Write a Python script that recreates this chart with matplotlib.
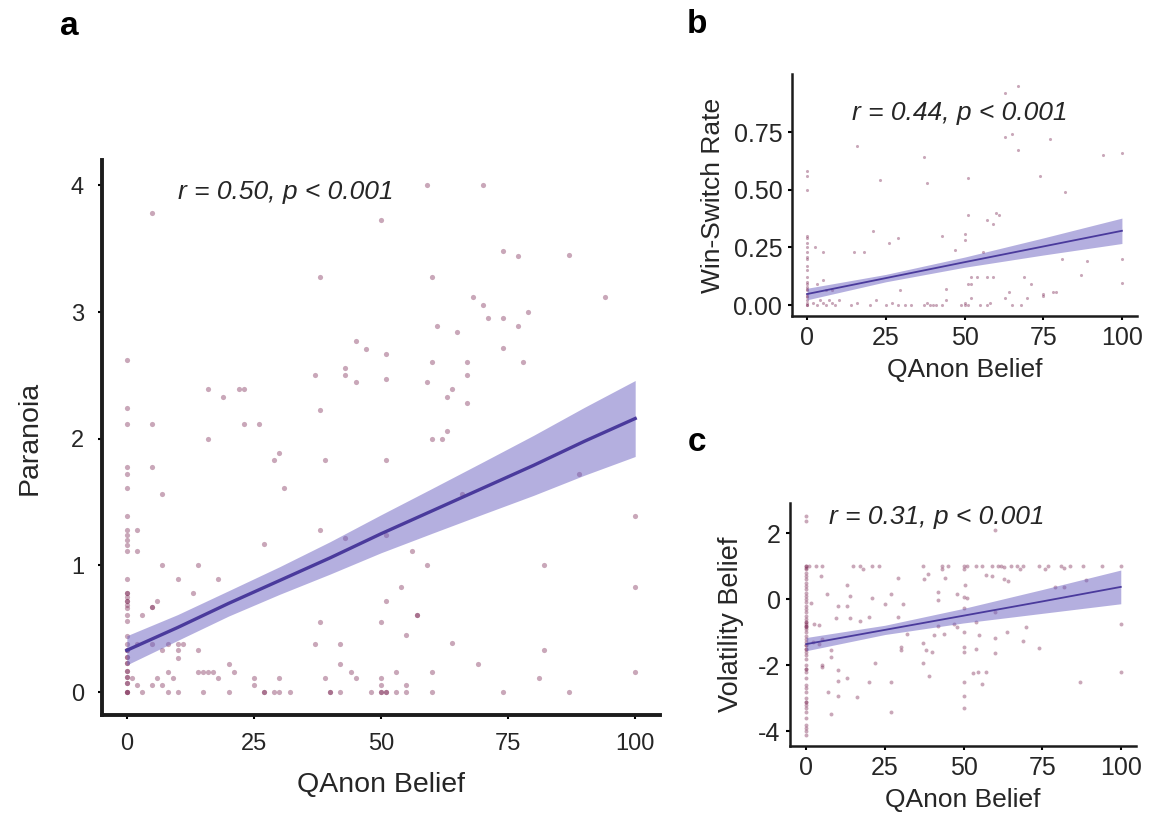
import matplotlib
matplotlib.use("Agg")
import matplotlib.pyplot as plt
import numpy as np

plt.rcParams['font.family'] = ['Liberation Sans', 'DejaVu Sans']

# ---- panel a : Paranoia vs QAnon belief ----
a_x = [0]*39 + [
    5, 50, 38, 45, 47, 51, 43, 43, 37, 45, 51, 16, 22, 23, 19, 38, 5, 23, 26, 16,
    59, 70, 74, 77, 87, 60, 68, 70, 94, 79, 71, 74, 77, 61, 65, 74, 60, 67, 78, 59,
    67, 64, 63, 67, 63, 60, 62,
    5, 30, 29, 39, 51, 7, 31, 2, 38, 43, 51, 27, 2, 7, 14, 10, 18, 13, 6, 5, 5, 3,
    51, 38, 50, 2, 5, 8, 10, 11, 37, 42, 7, 10, 14, 10, 20, 42, 8, 14, 15, 16, 17,
    21, 44, 1, 6, 9, 18, 25, 30, 39, 45, 50, 2, 5, 7, 25, 50,
    3, 8, 10, 15, 20, 27, 27, 29, 30, 32, 40, 40, 42, 48, 50, 50, 51, 51,
    89, 100, 66, 56, 59, 82, 100, 54, 57, 57, 55, 64, 82, 69, 53, 60, 100, 81, 55,
    53, 55, 60, 74, 87]
a_y = [2.62, 2.24, 2.12, 1.78, 1.72, 1.61, 1.39, 1.28, 1.24, 1.20, 1.16, 1.11, 0.89,
       0.78, 0.75, 0.72, 0.69, 0.66, 0.61, 0.56, 0.44, 0.38, 0.33, 0.28, 0.23, 0.17,
       0.12, 0.07, 0.0, 0.78, 0.72, 0.33, 0.28, 0.17, 0.12, 0.07, 0.0, 0.0, 0.23] + [
    3.78, 3.73, 3.28, 2.77, 2.71, 2.67, 2.56, 2.50, 2.50, 2.45, 2.47, 2.39, 2.39, 2.39,
    2.33, 2.23, 2.12, 2.12, 2.12, 2.0,
    4.0, 4.0, 3.48, 3.44, 3.45, 3.28, 3.12, 3.06, 3.12, 3.0, 2.95, 2.95, 2.89, 2.89,
    2.84, 2.72, 2.61, 2.61, 2.61, 2.45, 2.5, 2.39, 2.33, 2.28, 2.06, 2.0, 2.0,
    1.78, 1.89, 1.83, 1.83, 1.83, 1.56, 1.61, 1.28, 1.28, 1.22, 1.24, 1.17, 1.11, 1.0,
    1.0, 0.89, 0.89, 0.78, 0.72, 0.67, 0.67, 0.61,
    0.72, 0.55, 0.55, 0.38, 0.38, 0.38, 0.38, 0.38, 0.38, 0.38, 0.33, 0.33, 0.33, 0.27,
    0.22, 0.22, 0.16, 0.16, 0.16, 0.16, 0.16,
    0.16, 0.16, 0.11, 0.11, 0.11, 0.11, 0.11, 0.11, 0.11, 0.11, 0.11, 0.056, 0.056,
    0.056, 0.056, 0.056,
    0, 0, 0, 0, 0, 0, 0, 0, 0, 0, 0, 0, 0, 0, 0, 0, 0, 0,
    1.72, 1.39, 1.56, 1.11, 1.0, 1.0, 0.83, 0.83, 0.61, 0.61, 0.45, 0.39, 0.33, 0.22,
    0.16, 0.16, 0.16, 0.11, 0.056,
    0, 0, 0, 0, 0]
a_fit_x = [0, 10, 20, 30, 40, 50, 60, 70, 80, 90, 100]
a_fit_y = [0.33, 0.51, 0.70, 0.88, 1.06, 1.25, 1.43, 1.61, 1.79, 1.98, 2.16]
a_fit_se = [0.115, 0.102, 0.100, 0.109, 0.128, 0.150, 0.177, 0.206, 0.237, 0.268, 0.30]

# ---- panel b : Win-switch rate ----
b_x = [0]*25 + [
    67, 63, 65, 63, 77, 16, 67, 37, 94, 100, 23, 38, 51, 74, 82, 60, 61, 51, 57, 59,
    21, 29, 26, 43, 50, 50, 2.5, 5, 15, 18, 47, 56, 81, 89, 100, 87, 52, 54, 51, 52,
    57, 59, 69, 71, 29.5, 64, 75, 78, 79, 100, 3, 5, 6, 8, 44,
    2, 3, 4, 5, 6, 7, 8, 9, 10, 14, 16, 20, 22, 25, 27, 29, 31, 33, 37, 38, 39, 40,
    41, 43, 44, 49, 50, 50, 51, 52, 55, 57, 58, 63, 65, 68, 70, 75]
b_y = [0.58, 0.56, 0.50, 0.30, 0.29, 0.27, 0.25, 0.23, 0.21, 0.20, 0.17, 0.15, 0.12,
       0.10, 0.09, 0.08, 0.07, 0.065, 0.05, 0.04, 0.036, 0.02, 0.01, 0.0, 0.0] + [
    0.95, 0.92, 0.74, 0.73, 0.72, 0.69, 0.67, 0.64, 0.65, 0.66, 0.54, 0.53, 0.55, 0.56,
    0.49, 0.40, 0.39, 0.39, 0.37, 0.35,
    0.32, 0.29, 0.27, 0.30, 0.31, 0.28, 0.25, 0.23, 0.23, 0.23, 0.24, 0.23, 0.20, 0.19,
    0.20, 0.13, 0.12, 0.12, 0.09, 0.09,
    0.12, 0.12, 0.12, 0.09, 0.065, 0.058, 0.05, 0.058, 0.058, 0.094, 0.09, 0.11, 0.065,
    0.065, 0.07,
    0.01, 0.0, 0.02, 0.01, 0.0, 0.02, 0.01, 0.0, 0.02, 0.0, 0.01, 0.0, 0.02, 0.0, 0.01,
    0.0, 0.0, 0.0, 0.0, 0.01, 0.0, 0.0,
    0.0, 0.0, 0.02, 0.0, 0.0, 0.01, 0.0, 0.03, 0.0, 0.0, 0.01, 0.03, 0.0, 0.0, 0.03, 0.04]
b_fit_x = [0, 25, 50, 75, 100]
b_fit_y = [0.048, 0.117, 0.186, 0.254, 0.322]
b_fit_se = [0.025, 0.016, 0.022, 0.037, 0.055]

# ---- panel c : Volatility belief ----
c_x = [0]*58 + [
    1, 3, 5, 15, 17, 21, 23, 37, 43, 45, 50, 51, 54, 56, 59, 61, 62, 65, 67, 69, 74,
    77, 81, 84, 88, 94, 100,
    18, 43, 50, 63, 68, 76, 82,
    4.6, 38.7, 37.4, 29, 44, 50.6, 57, 59, 63, 64, 12.8, 89, 79, 82, 6.7, 1.4, 14, 27,
    41.8, 48, 50, 51, 10, 13, 21, 25, 30.7, 29, 14, 17, 20, 4, 2.6, 9.3, 42, 42, 47,
    48, 54, 50, 60, 70, 32, 40.5, 43.7, 50, 54.8, 63.8, 60, 69, 74, 30, 30, 37, 38,
    40, 50, 50, 54, 60, 7.7, 7.7, 22, 5, 5, 10, 37, 39, 53, 54.6, 57, 100, 10, 13, 20,
    27, 50, 56, 87, 7, 10, 16, 50, 7.7, 27, 50, 100, 60, 2, 4, 5]
c_y = [2.5, 2.35, 1.0, 0.95, 0.9, 0.8, 0.7, 0.6, 0.5, 0.4, 0.3, 0.2, 0.1, 0.0, -0.1,
       -0.2, -0.3, -0.4, -0.5, -0.6, -0.7, -0.75, -0.8, -0.85, -0.9, -1.0, -1.1, -1.2,
       -1.3, -1.4, -1.5, -1.6, -1.7, -1.8, -2.0, -2.1, -2.2, -2.4, -2.6, -2.7, -2.8,
       -3.0, -3.1, -3.2, -3.3, -3.4, -3.6, -3.8, -3.9, -4.0, -4.1, 1.0, -0.7, -0.8,
       -1.4, -1.5, -2.1, -3.1] + [1.0]*27 + [
    0.9, 0.9, 0.92, 0.98, 0.92, 0.9, 0.95,
    0.69, 0.75, 0.62, 0.64, 0.65, 0.42, 0.72, 0.69, 0.6, 0.55, 0.42, 0.57, 0.37, 0.37,
    0.17, -0.13, 0.09, 0.17, 0.22, 0.17, 0.07, 0.02, -0.21, -0.21, 0.02, -0.16, -0.16,
    -0.53, -0.58, -0.65, -0.53, -0.79, -0.76, -0.58, -0.03, -0.82, -0.74, -0.84, -0.68,
    -0.28, -0.38, -0.84, -1.04, -1.09, -1.04, -0.99, -1.09, -1.0, -1.19, -1.26, -1.49,
    -1.44, -1.54, -1.34, -1.54, -1.59, -1.44, -1.59, -1.52, -1.64, -1.54, -1.74, -1.92,
    -1.99, -2.06, -2.14, -1.94, -2.33, -2.23, -2.2, -2.2, -2.2, -2.47, -2.4, -2.52,
    -2.52, -2.52, -2.58, -2.52, -2.8, -2.92, -2.95, -2.92, -3.47, -3.42, -3.3, -0.76,
    2.08, -1.3, -1.35, -1.2]
c_fit_x = [0, 25, 50, 75, 100]
c_fit_y = [-1.36, -0.93, -0.50, -0.07, 0.37]
c_fit_se = [0.20, 0.14, 0.22, 0.36, 0.51]
c_yticks = [-4, -2, 0, 2]
c_yticklabels = ['-4', '-2', '0', '2']

pt_color = '#7a2450'
line_color = '#4a3a9c'
band_color = '#6b60c0'
spine_color = '#1c1c1c'


def panel(ax, x, y, fx, fy, fse, s, lw, spw, tsize, pad):
    ax.scatter(x, y, s=s, color=pt_color, alpha=0.4, linewidths=0, zorder=2)
    fy = np.array(fy)
    fse = np.array(fse)
    ax.fill_between(fx, fy - fse, fy + fse, color=band_color, alpha=0.5,
                    linewidth=0, zorder=3)
    ax.plot(fx, fy, color=line_color, linewidth=lw, zorder=4)
    for side in ['top', 'right']:
        ax.spines[side].set_visible(False)
    for side in ['left', 'bottom']:
        ax.spines[side].set_linewidth(spw)
        ax.spines[side].set_color(spine_color)
    ax.tick_params(direction='out', length=3, width=1.5, color='black',
                   labelsize=tsize, labelcolor='#262626', pad=pad)
    ax.set_xticks([0, 25, 50, 75, 100])


fig = plt.figure(figsize=(11.52, 8.17), dpi=100)

ax1 = fig.add_axes([0.0885, 0.125, 0.4845, 0.679])
panel(ax1, a_x, a_y, a_fit_x, a_fit_y, a_fit_se, 14, 2.4, 2.8, 17, 10)
ax1.set_xlim(-4.9, 104.9)
ax1.set_ylim(-0.18, 4.2)
ax1.set_yticks([0, 1, 2, 3, 4])
ax1.set_xlabel('QAnon Belief', fontsize=20.5, color='#262626', labelpad=12)
ax1.set_ylabel('Paranoia', fontsize=20.5, color='#262626', labelpad=20)
ax1.text(10, 3.95, 'r = 0.50, p < 0.001', fontsize=19, style='italic',
         color='#262626', va='center', ha='left')

ax2 = fig.add_axes([0.6875, 0.613, 0.2995, 0.296])
panel(ax2, b_x, b_y, b_fit_x, b_fit_y, b_fit_se, 5, 1.3, 1.8, 18, 4)
ax2.set_xlim(-4.8, 104.8)
ax2.set_ylim(-0.048, 1.0)
ax2.set_yticks([0, 0.25, 0.5, 0.75])
ax2.set_yticklabels(['0.00', '0.25', '0.50', '0.75'])
ax2.set_xlabel('QAnon Belief', fontsize=19, color='#262626', labelpad=6)
ax2.set_ylabel('Win-Switch Rate', fontsize=19, color='#262626', labelpad=6)
ax2.text(14.3, 0.834, 'r = 0.44, p < 0.001', fontsize=19, style='italic',
         color='#262626', va='center', ha='left')

ax3 = fig.add_axes([0.686, 0.087, 0.300, 0.297])
panel(ax3, c_x, c_y, c_fit_x, c_fit_y, c_fit_se, 8, 1.3, 1.8, 18, 4)
ax3.set_xlim(-5.1, 104.8)
ax3.set_ylim(-4.44, 2.9)
ax3.set_yticks(c_yticks)
ax3.set_yticklabels(c_yticklabels)
ax3.set_xlabel('QAnon Belief', fontsize=19, color='#262626', labelpad=6)
ax3.set_ylabel('Volatility Belief', fontsize=19.5, color='#262626', labelpad=10)
ax3.text(7.3, 2.49, 'r = 0.31, p < 0.001', fontsize=19, style='italic',
         color='#262626', va='center', ha='left')

fig.text(0.06, 0.957, 'a', fontsize=24, fontweight='bold', ha='center', va='baseline')
fig.text(0.605, 0.96, 'b', fontsize=24, fontweight='bold', ha='center', va='baseline')
fig.text(0.605, 0.448, 'c', fontsize=24, fontweight='bold', ha='center', va='baseline')

fig.savefig('out.png', dpi=100)
